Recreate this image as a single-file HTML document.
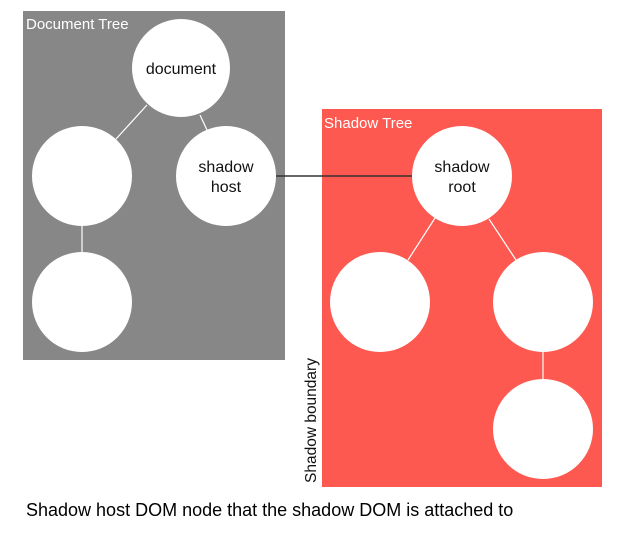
<!DOCTYPE html>
<html><head><style>body{margin:0;background:#fff;}</style></head><body>
<svg width="625" height="528" viewBox="0 0 625 528" xmlns="http://www.w3.org/2000/svg" font-family="Liberation Sans, sans-serif">
<rect x="23" y="11" width="262" height="349" fill="#878787"/>
<rect x="322" y="109" width="280" height="378" fill="#fd5950"/>
<g stroke="#fff" stroke-width="1.2">
<line x1="147" y1="105" x2="116" y2="139"/>
<line x1="200" y1="115" x2="207" y2="130"/>
<line x1="82" y1="226" x2="82" y2="253"/>
<line x1="435" y1="218" x2="408" y2="260"/>
<line x1="489" y1="219" x2="516" y2="260"/>
<line x1="543" y1="352" x2="543" y2="380"/>
</g>
<line x1="276" y1="176" x2="413" y2="176" stroke="#333" stroke-width="1.5"/>
<g fill="#fff">
<circle cx="181" cy="68" r="49"/>
<circle cx="82" cy="176" r="50"/>
<circle cx="226" cy="176" r="50"/>
<circle cx="82" cy="302" r="50"/>
<circle cx="462" cy="176" r="50"/>
<circle cx="380" cy="302" r="50"/>
<circle cx="543" cy="302" r="50"/>
<circle cx="543" cy="429" r="50"/>
</g>
<g font-size="16" fill="#111" text-anchor="middle">
<text x="181" y="74">document</text>
<text x="226" y="172">shadow</text>
<text x="226" y="192">host</text>
<text x="462" y="172">shadow</text>
<text x="462" y="192">root</text>
</g>
<text x="26" y="29" font-size="15" fill="#fff">Document Tree</text>
<text x="324" y="128" font-size="15" fill="#fff">Shadow Tree</text>
<text transform="translate(316,483) rotate(-90)" font-size="15.5" fill="#111">Shadow boundary</text>
<text x="26" y="516" font-size="18" fill="#000">Shadow host DOM node that the shadow DOM is attached to</text>
</svg>
</body></html>
